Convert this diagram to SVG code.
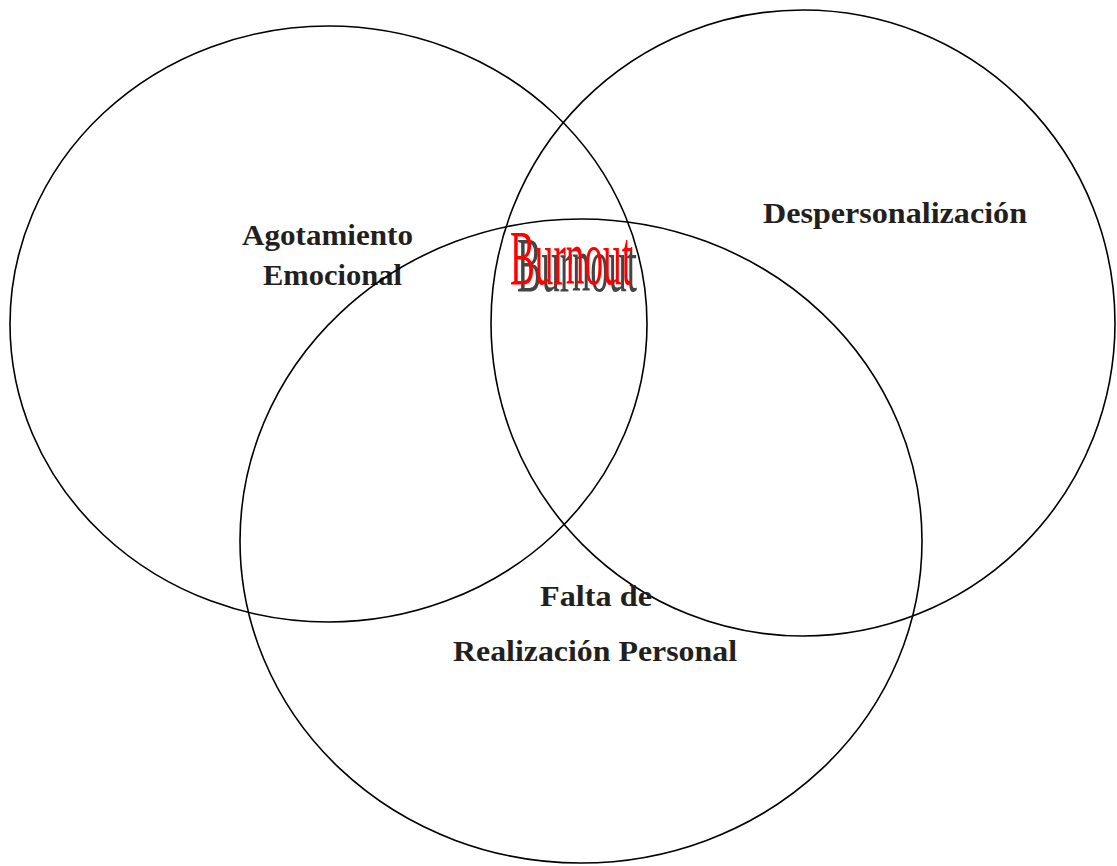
<svg xmlns="http://www.w3.org/2000/svg" width="1117" height="866" viewBox="0 0 1117 866">
<style>
.c{fill:none;stroke:#000;stroke-width:1.6}
.t{font-family:"Liberation Serif","Times New Roman",serif;font-weight:bold;font-size:30px;fill:#231f20}
.b{font-family:"Liberation Serif","Times New Roman",serif;font-size:78px}
</style>
<rect width="1117" height="866" fill="#fff"/>
<g id="agotamiento">
<ellipse class="c" cx="328.5" cy="324" rx="318.5" ry="298"/>
<text class="t" x="242" y="245" textLength="171" lengthAdjust="spacingAndGlyphs">Agotamiento</text>
<text class="t" x="263" y="285" textLength="139" lengthAdjust="spacingAndGlyphs">Emocional</text>
</g>
<g id="despersonalizacion">
<ellipse class="c" cx="803" cy="323" rx="312" ry="313"/>
<text class="t" x="763" y="223" textLength="264" lengthAdjust="spacingAndGlyphs">Despersonalización</text>
</g>
<g id="realizacion">
<ellipse class="c" cx="581" cy="541" rx="341" ry="322"/>
<text class="t" x="540" y="606" textLength="112" lengthAdjust="spacingAndGlyphs">Falta de</text>
<text class="t" x="453" y="661" textLength="284" lengthAdjust="spacingAndGlyphs">Realización Personal</text>
</g>
<g id="burnout">
<text class="b" x="517" y="291" fill="#444" textLength="120" lengthAdjust="spacingAndGlyphs">Burnout</text>
<text class="b" x="510" y="284" fill="#ff0000" textLength="122" lengthAdjust="spacingAndGlyphs">Burnout</text>
</g>
<g id="connectors"></g>
</svg>
